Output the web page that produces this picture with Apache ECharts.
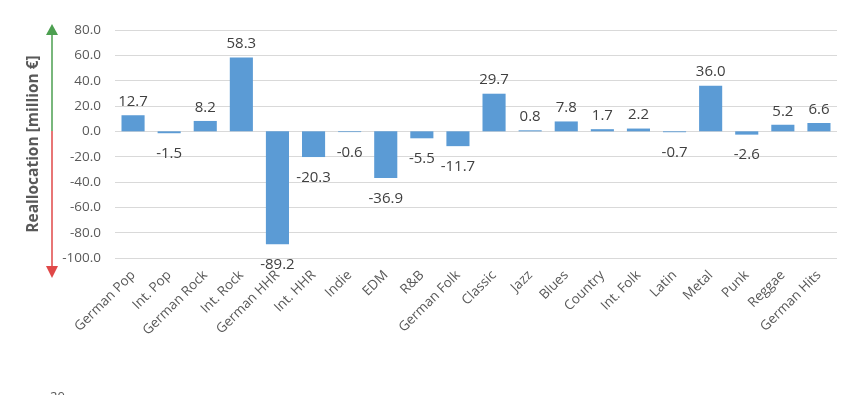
<!DOCTYPE html>
<html><head><meta charset="utf-8">
<script src="https://cdn.jsdelivr.net/npm/echarts@6/dist/echarts.min.js"></script>
<style>html,body{margin:0;padding:0;background:#fff}#c{width:850px;height:395px}</style>
</head><body><div id="c"></div>
<script>
const categories = ["German Pop","Int. Pop","German Rock","Int. Rock","German HHR","Int. HHR","Indie","EDM","R&B","German Folk","Classic","Jazz","Blues","Country","Int. Folk","Latin","Metal","Punk","Reggae","German Hits"];
const values = [12.7,-1.5,8.2,58.3,-89.2,-20.3,-0.6,-36.9,-5.5,-11.7,29.7,0.8,7.8,1.7,2.2,-0.7,36.0,-2.6,5.2,6.6];
const yMin = -100, yMax = 80, yStep = 20;

const chart = echarts.init(document.getElementById('c'));
const FONT = '"Open Sans", sans-serif';
chart.setOption({
  animation: false,
  grid: {left: 115, right: 13, top: 30, bottom: 137},
  xAxis: {
    type: 'category', data: categories,
    axisLine: {show: false, onZero: false},
    axisTick: {show: false},
    axisLabel: {rotate: 45, interval: 0, color: '#595959', fontSize: 13.5, fontFamily: FONT, margin: 15}
  },
  yAxis: {
    type: 'value', min: yMin, max: yMax, interval: yStep,
    name: 'Reallocation [million €]', nameLocation: 'middle', nameGap: 73,
    nameTextStyle: {color: '#595959', fontSize: 15.5, fontWeight: 'bold', fontFamily: FONT},
    axisLabel: {formatter: v => v.toFixed(1), color: '#595959', fontSize: 13.5, fontFamily: FONT, margin: 14},
    splitLine: {lineStyle: {color: '#d9d9d9', width: 1}},
    axisLine: {show: false}, axisTick: {show: false}
  },
  series: [{
    type: 'bar', barWidth: '64%',
    itemStyle: {color: '#5b9bd5'},
    data: values.map(v => ({value: v, label: v >= 0 ? {position: 'top', distance: 6} : {position: 'bottom', distance: 13}})),
    label: {show: true, formatter: p => p.value.toFixed(1), color: '#404040', fontSize: 15, fontFamily: FONT}
  }],
  graphic: [
    {type: 'line', shape: {x1: 52, y1: 34, x2: 52, y2: 131}, style: {stroke: '#4c9f50', lineWidth: 1.5}},
    {type: 'polygon', shape: {points: [[52, 24], [46, 35], [58, 35]]}, style: {fill: '#4c9f50'}},
    {type: 'line', shape: {x1: 52, y1: 131, x2: 52, y2: 268}, style: {stroke: '#e04848', lineWidth: 1.5}},
    {type: 'polygon', shape: {points: [[52, 278], [46, 266], [58, 266]]}, style: {fill: '#e04848'}},
    {type: 'text', left: 50, top: 391, style: {text: '20', fill: '#595959', fontSize: 13, fontFamily: FONT}}
  ]
});
</script></body></html>
